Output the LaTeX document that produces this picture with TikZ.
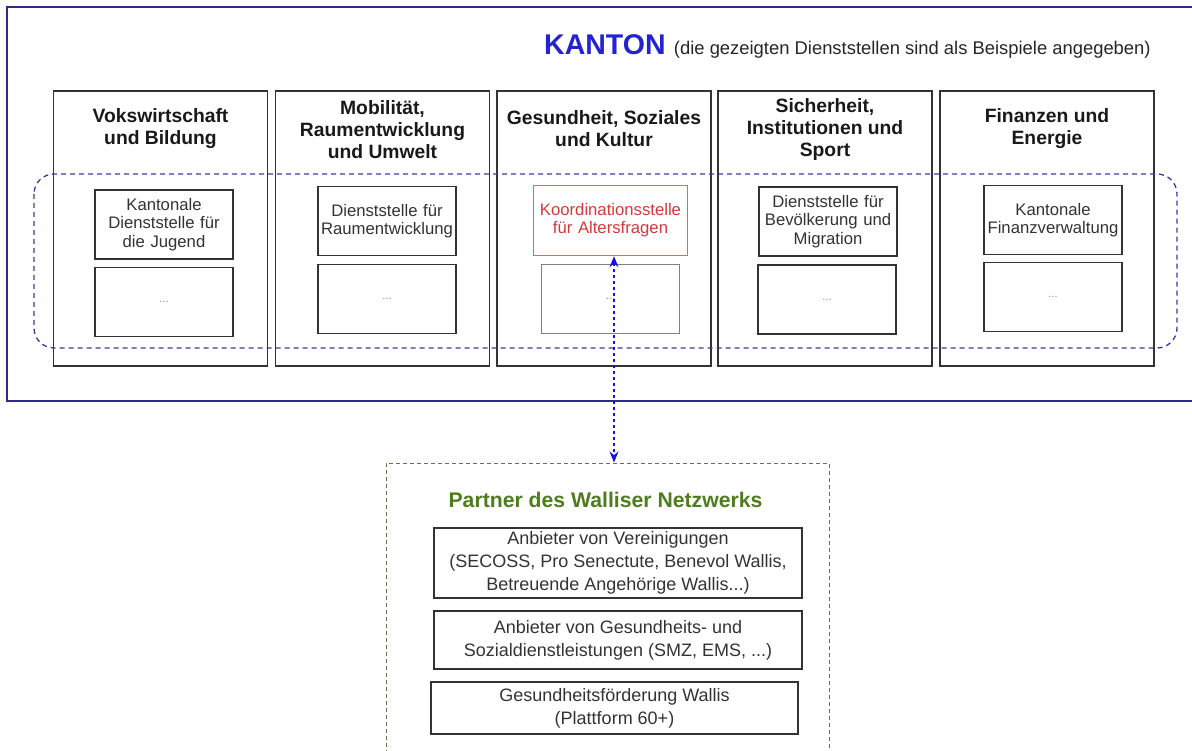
\documentclass[tikz,border=0pt]{standalone}
\usepackage{fontspec}
\setmainfont{Liberation Sans}
\usepackage{xcolor}
\usepackage{tikz}
\usetikzlibrary{arrows.meta, positioning, calc}
\definecolor{kantonblue}{HTML}{2B2B8C}
\definecolor{titleblue}{HTML}{2323D2}
\definecolor{groupblue}{HTML}{3A3A9E}
\definecolor{arrowblue}{HTML}{1414DC}
\definecolor{darkline}{HTML}{333333}
\definecolor{boxtext}{HTML}{333333}
\definecolor{coordred}{HTML}{E06666}
\definecolor{coordtext}{HTML}{D43A3A}
\definecolor{netgreen}{HTML}{4E7D1E}
\definecolor{netline}{HTML}{6E6E55}

\begin{document}
\begin{tikzpicture}[x=1pt, y=-1pt, >={Stealth[length=11pt, width=9pt]},
    dept/.style={rectangle, draw=darkline, line width=1.2pt,
      minimum width=214pt, minimum height=275pt, inner sep=0pt},
    depthead/.style={text=black!90, align=center,
      font=\fontsize{19.3}{22}\selectfont\bfseries},
    office/.style={rectangle, draw=darkline, line width=1.1pt, fill=white,
      minimum width=138pt, minimum height=69pt, text width=136pt, inner sep=0pt,
      align=center, text=boxtext, font=\fontsize{16.7}{18.3}\selectfont},
    more/.style={office, text=black!45, font=\fontsize{11}{12}\selectfont},
    partner/.style={rectangle, draw=darkline, line width=1.1pt, minimum width=368pt,
      inner sep=0pt, align=center, text=boxtext, font=\fontsize{18}{23}\selectfont},
  ]
    \useasboundingbox (0,0) rectangle (1192,751);

    % Kanton frame and title
    \draw[kantonblue, line width=1.3pt] (7,7) rectangle (1215,401);
    \node[anchor=base west, text=titleblue, font=\fontsize{28.5}{32}\selectfont\bfseries, inner sep=0pt]
      (kanton) at (544,55) {KANTON};
    \node[anchor=base west, text=black!85, font=\fontsize{18.4}{21}\selectfont, inner sep=0pt]
      (hint) at ([xshift=8pt]kanton.base east) {(die gezeigten Dienststellen sind als Beispiele angegeben)};

    % departments
    \node[dept] (vb) at (160.5,228.5) {};
    \node[dept] (mr) at (382.5,228.5) {};
    \node[dept] (gs) at (604,228.5)   {};
    \node[dept] (si) at (825,228.5)   {};
    \node[dept] (fe) at (1047,228.5)  {};

    \node[depthead] (vbh) at (160.5,129) {Vokswirtschaft\\und Bildung};
    \node[depthead] (mrh) at (382.5,130) {Mobilität,\\Raumentwicklung\\und Umwelt};
    \node[depthead] (gsh) at (604,129)   {Gesundheit, Soziales\\und Kultur};
    \node[depthead] (sih) at (825,130)   {Sicherheit,\\Institutionen und\\Sport};
    \node[depthead] (feh) at (1047,129)  {Finanzen und\\Energie};

    % services shown as examples
    \draw[groupblue, line width=1.3pt, dash pattern=on 5pt off 4pt, rounded corners=20pt]
      (34,174) rectangle (1177,348);

    \node[office] (jug) at (164,224.5) {Kantonale\\Dienststelle für\\die Jugend};
    \node[more]   (vbx) at (164,302)   {...};
    \node[office] (raum) at (387,221)  {Dienststelle für\\Raumentwicklung};
    \node[more]   (mrx) at (387,299)   {...};
    \node[office, draw=coordred, line width=1.4pt, minimum width=154pt, minimum height=70pt,
      text width=152pt, text=coordtext] (alter) at (610.5,220.5) {Koordinationsstelle\\für Altersfragen};
    \node[more, draw=black!50, line width=1.4pt] (gsx) at (610.5,299) {...};
    \node[office] (migr) at (828,221.5) {Dienststelle für\\Bevölkerung und\\Migration};
    \node[more]   (six) at (827,299.5)  {...};
    \node[office] (fin) at (1053,220)   {Kantonale\\Finanzverwaltung};
    \node[more]   (fex) at (1053,297)   {...};

    % Walliser network
    \node[rectangle, draw=netline, line width=1pt, dash pattern=on 4pt off 3pt,
      minimum width=443pt, minimum height=297pt] (net) at (607.5,611.5) {};
    \node[text=netgreen, font=\fontsize{21.2}{24}\selectfont\bfseries] (nett) at (605.5,500)
      {Partner des Walliser Netzwerks};
    \node[partner, minimum height=70pt] (verein) at (618,563)
      {Anbieter von Vereinigungen\\(SECOSS, Pro Senectute, Benevol Wallis,\\Betreuende Angehörige Wallis...)};
    \node[partner, minimum height=58pt] (gesund) at (618,640)
      {Anbieter von Gesundheits- und\\Sozialdienstleistungen (SMZ, EMS, ...)};
    \node[partner, minimum height=52pt, minimum width=367pt] (plattf) at (614.5,708)
      {Gesundheitsförderung Wallis\\(Plattform 60+)};

    \draw[<->, arrowblue, line width=1.3pt, dash pattern=on 3pt off 3pt]
      ([xshift=3.5pt]alter.south) -- ([xshift=3.5pt]alter.south |- net.north);
  \end{tikzpicture}
\end{document}
